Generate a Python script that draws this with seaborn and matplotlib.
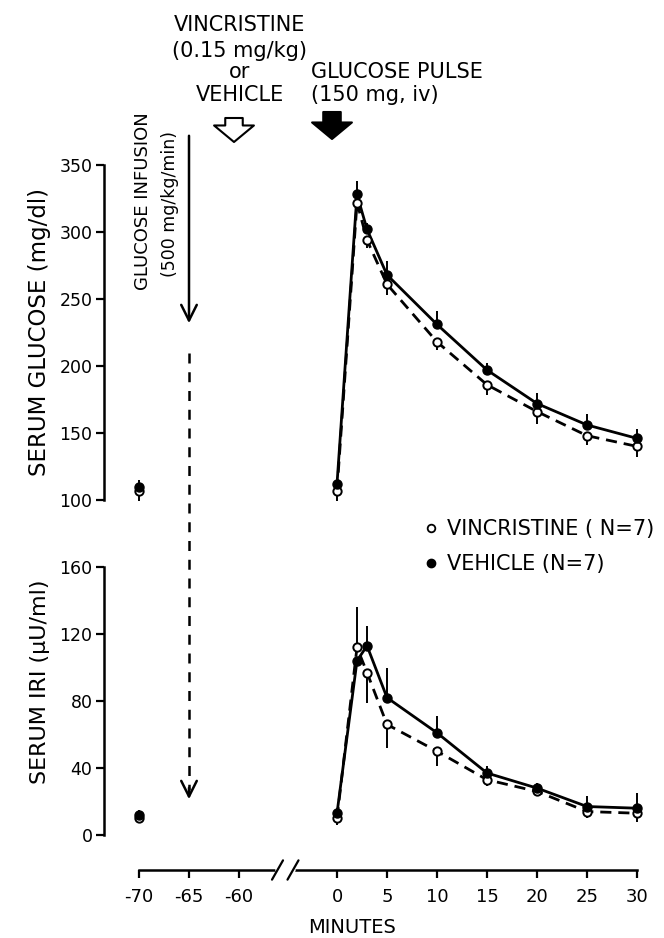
import matplotlib
matplotlib.use('Agg')
import matplotlib.pyplot as plt
import matplotlib.transforms as mtransforms
from matplotlib.lines import Line2D
import numpy as np
import pandas as pd
import seaborn as sns

# sampling times (min); -70 is the basal sample before the axis break
minutes = [-70, 0, 2, 3, 5, 10, 15, 20, 25, 30]
tick_minutes = [-70, -65, -60, 0, 5, 10, 15, 20, 25, 30]
legend_labels = ['VINCRISTINE ( N=7)', 'VEHICLE (N=7)']

# serum glucose (mg/dl)
glucose_vehicle = [110, 112, 328, 302, 268, 231, 197, 172, 156, 146]
glucose_vehicle_up = [5, 4, 10, 5, 10, 10, 5, 8, 8, 7]
glucose_vincristine = [107, 107, 322, 294, 261, 218, 186, 166, 148, 140]
glucose_vincristine_down = [8, 8, 6, 6, 8, 6, 8, 9, 7, 8]

# serum IRI (uU/ml)
iri_vehicle = [12, 13, 104, 113, 82, 61, 37, 28, 17, 16]
iri_vehicle_up = [3, 3, 0, 12, 18, 10, 4, 3, 6, 9]
iri_vincristine = [10, 10, 112, 97, 66, 50, 33, 26, 14, 13]
iri_vincristine_up = [0, 0, 24, 0, 0, 0, 0, 0, 0, 0]
iri_vincristine_down = [3, 4, 0, 18, 14, 9, 4, 3, 4, 5]

GAP = 50.2  # shift applied to the pre-break segment


def xpos(t):
    t = np.asarray(t, dtype=float)
    return np.where(t < -30, t + GAP, t)


sns.set_style('ticks')
plt.rcParams['font.family'] = ['DejaVu Sans']
plt.rcParams['text.color'] = 'black'
plt.rcParams['xtick.color'] = 'black'
plt.rcParams['ytick.color'] = 'black'
plt.rcParams['axes.edgecolor'] = 'black'

df = pd.DataFrame({
    'minute': minutes * 2,
    'group': ['VEHICLE'] * len(minutes) + ['VINCRISTINE'] * len(minutes),
    'glucose': glucose_vehicle + glucose_vincristine,
    'iri': iri_vehicle + iri_vincristine,
})
df['pos'] = xpos(df['minute'])
post = df[df['minute'] >= 0]

W, H = 664, 938
fig = plt.figure(figsize=(6.64, 9.38), dpi=100)
left, right = 103.5 / W, 647 / W
ax1 = fig.add_axes([left, 1 - 500 / H, right - left, 335 / H])
ax2 = fig.add_axes([left, 1 - 835 / H, right - left, 268 / H])

dashes = {'VEHICLE': '', 'VINCRISTINE': (4, 2.5)}
for ax, col, lo, hi in [(ax1, 'glucose', 100, 350), (ax2, 'iri', 0, 160)]:
    sns.lineplot(data=post, x='pos', y=col, style='group', dashes=dashes,
                 color='black', lw=2, estimator=None, legend=False, ax=ax)
    ax.set_xlim(-23.35, 31)
    ax.set_ylim(lo, hi)
    ax.set_xlabel('')
    ax.set_ylabel('')
    for s in ['top', 'right', 'bottom']:
        ax.spines[s].set_visible(False)
    ax.spines['left'].set_linewidth(1.8)
    ax.spines['left'].set_bounds(lo, hi)
    ax.tick_params(axis='y', direction='out', length=6, width=1.6,
                   labelsize=12.5, pad=2)

ax1.set_yticks([100, 150, 200, 250, 300, 350])
ax2.set_yticks([0, 40, 80, 120, 160])
ax1.tick_params(axis='x', bottom=False, labelbottom=False)

# error bars (vehicle upward, vincristine mostly downward)
x = xpos(minutes)
ebar = dict(fmt='none', ecolor='black', elinewidth=1.4, capsize=0, clip_on=False)
ax1.errorbar(x, glucose_vehicle, yerr=[[0] * 10, glucose_vehicle_up], **ebar)
ax1.errorbar(x, glucose_vincristine, yerr=[glucose_vincristine_down, [0] * 10], **ebar)
ax2.errorbar(x, iri_vehicle, yerr=[[0] * 10, iri_vehicle_up], **ebar)
ax2.errorbar(x, iri_vincristine, yerr=[iri_vincristine_down, iri_vincristine_up], **ebar)

for ax, veh, vin in [(ax1, glucose_vehicle, glucose_vincristine),
                     (ax2, iri_vehicle, iri_vincristine)]:
    ax.plot(x, vin, 'o', ms=6, mfc='white', mec='black', mew=1.4,
            clip_on=False, zorder=5)
    ax.plot(x, veh, 'o', ms=6.5, mfc='black', mec='black',
            clip_on=False, zorder=6)

# broken x axis
ax2.spines['bottom'].set_visible(True)
ax2.spines['bottom'].set_linewidth(1.8)
ax2.spines['bottom'].set_position(('outward', 25.2))
ax2.spines['bottom'].set_bounds(xpos(-70), 30)
ax2.set_xticks(xpos(tick_minutes))
ax2.set_xticklabels([str(t) for t in tick_minutes])
ax2.tick_params(axis='x', direction='out', length=6, width=1.6,
                labelsize=13, pad=7)
yb = -(25.2 / 72 * 100) / 268
xt = ax2.get_xaxis_transform()
ax2.plot([-5.95, -4.4], [yb, yb], color='white', lw=4, transform=xt,
         clip_on=False, zorder=10)
for c in [-5.95, -4.4]:
    ax2.plot([c - 0.55, c + 0.55], [yb - 0.036, yb + 0.036], color='black',
             lw=1.6, transform=xt, clip_on=False, zorder=11)

fig.text(352 / W, 1 - 927 / H, 'MINUTES', ha='center', va='center', fontsize=14)
fig.text(40 / W, 1 - 332 / H, 'SERUM GLUCOSE (mg/dl)', rotation=90,
         ha='center', va='center', fontsize=16.5)
fig.text(40 / W, 1 - 682 / H, 'SERUM IRI (\u03bcU/ml)', rotation=90,
         ha='center', va='center', fontsize=16)

# legend
handles = [Line2D([], [], ls='none', marker='o', ms=5.5, mfc='white', mec='black', mew=1.3),
           Line2D([], [], ls='none', marker='o', ms=6, mfc='black', mec='black')]
fig.legend(handles, legend_labels, loc='upper left',
           bbox_to_anchor=(425 / W, 1 - 519 / H), frameon=False, fontsize=15,
           handlelength=0.6, handletextpad=0.45, labelspacing=0.72, borderpad=0,
           borderaxespad=0)

# glucose infusion arrow (solid, then dashed through both panels)
bt1 = mtransforms.blended_transform_factory(ax1.transData, fig.transFigure)
bt2 = mtransforms.blended_transform_factory(ax2.transData, fig.transFigure)
xi = float(xpos(-65))
ax1.annotate('', xy=(xi, 1 - 326 / H), xycoords=bt1, xytext=(xi, 1 - 133 / H),
             textcoords=bt1, annotation_clip=False,
             arrowprops=dict(arrowstyle='->', lw=1.8, color='black', mutation_scale=28))
ax2.add_line(Line2D([xi, xi], [1 - 353 / H, 1 - 790 / H], transform=bt2,
                    color='black', lw=1.8, ls=(0, (4, 3.5)), clip_on=False))
ax2.annotate('', xy=(xi, 1 - 802 / H), xycoords=bt2, xytext=(xi, 1 - 785 / H),
             textcoords=bt2, annotation_clip=False,
             arrowprops=dict(arrowstyle='->', lw=1.8, color='black', mutation_scale=28))
fig.text(143 / W, 1 - 290 / H, 'GLUCOSE INFUSION', rotation=90, ha='center',
         va='bottom', fontsize=13)
fig.text(170 / W, 1 - 277 / H, '(500 mg/kg/min)', rotation=90, ha='center',
         va='bottom', fontsize=12.5)

# injection block arrows
xv, xg = float(xpos(-60.5)), float(xpos(-0.5))
block = 'simple,head_width=2.05,head_length=0.85,tail_width=0.9'
ax1.annotate('', xy=(xv, 1 - 142 / H), xycoords=bt1, xytext=(xv, 1 - 118 / H),
             textcoords=bt1, annotation_clip=False,
             arrowprops=dict(arrowstyle=block, fc='white', ec='black', lw=1.5,
                             mutation_scale=14, shrinkA=0, shrinkB=0))
ax1.annotate('', xy=(xg, 1 - 139 / H), xycoords=bt1, xytext=(xg, 1 - 112 / H),
             textcoords=bt1, annotation_clip=False,
             arrowprops=dict(arrowstyle=block, fc='black', ec='black', lw=1.5,
                             mutation_scale=14, shrinkA=0, shrinkB=0))

for txt, yy in [('VINCRISTINE', 25), ('(0.15 mg/kg)', 51), ('or', 72), ('VEHICLE', 95)]:
    fig.text(240 / W, 1 - yy / H, txt, ha='center', va='center', fontsize=15)
fig.text(311 / W, 1 - 72 / H, 'GLUCOSE PULSE', ha='left', va='center', fontsize=15)
fig.text(311 / W, 1 - 95 / H, '(150 mg, iv)', ha='left', va='center', fontsize=15)

fig.savefig('out.png', dpi=100)
